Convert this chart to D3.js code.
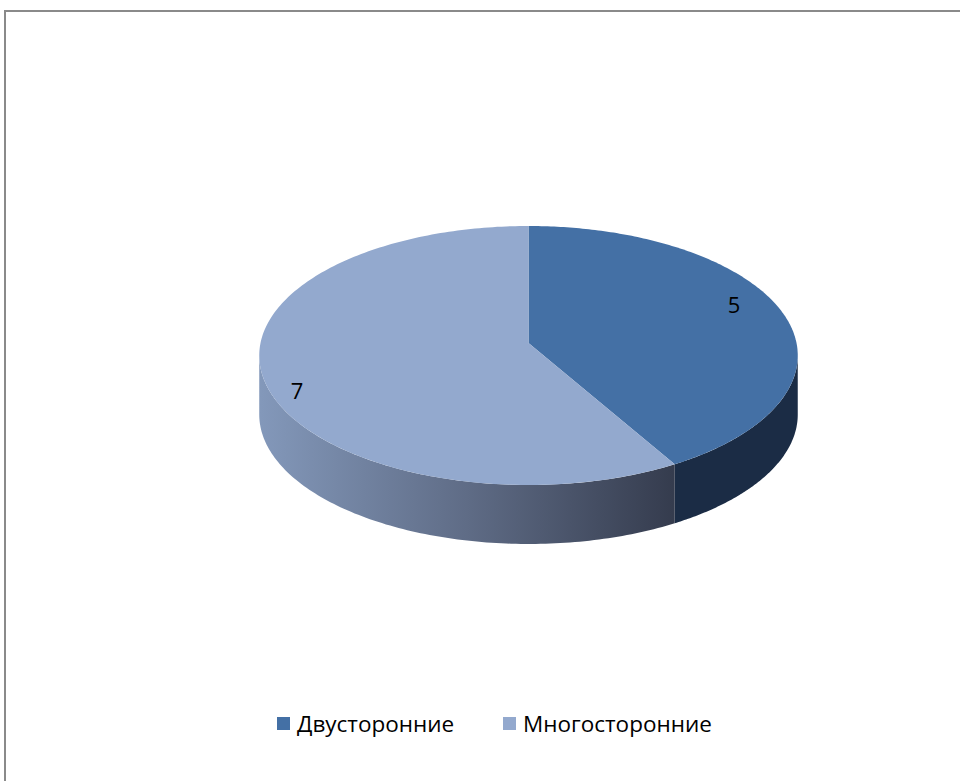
<!DOCTYPE html>
<html><head><meta charset="utf-8">
<script src="https://cdn.jsdelivr.net/npm/d3@7"></script>
<style>html,body{margin:0;padding:0;background:#fff;}svg{display:block;}</style>
</head><body>
<svg id="c" width="960" height="781"></svg>
<script>
const categories = ["Двусторонние", "Многосторонние"];
const values = [5, 7];
const labels = ["5", "7"];

const topColors = ["#4470a5", "#93a9ce"];
const sideColors = ["#1b2c45", null];

const svg = d3.select("#c");

// frame
svg.append("rect").attr("x", 5).attr("y", 11).attr("width", 1000).attr("height", 1000)
  .attr("fill", "#fff").attr("stroke", "#8a8a8a").attr("stroke-width", 2);

// perspective pie geometry
const cx = 528.5, cy = 343, R = 268, Ry = 128.3, k = 0.0965, depth = 59;
function rim(theta, dy = 0) {
  const u = Math.sin(theta), v = -Math.cos(theta);
  const w = 1 - k * v;
  return [cx + R * u / w, cy + Ry * v / w + dy];
}
const visA = Math.acos(-k), visB = 2 * Math.PI - Math.acos(-k);

const pie = d3.pie().sort(null).value(d => d)(values);

const defs = svg.append("defs");
const grad = defs.append("linearGradient").attr("id", "sideGrad")
  .attr("gradientUnits", "userSpaceOnUse").attr("x1", 260).attr("y1", 0).attr("x2", 673).attr("y2", 0);
grad.append("stop").attr("offset", "0%").attr("stop-color", "#8398ba");
grad.append("stop").attr("offset", "50%").attr("stop-color", "#5f6c86");
grad.append("stop").attr("offset", "100%").attr("stop-color", "#353c4e");

function samples(a0, a1, n) {
  const pts = [];
  for (let i = 0; i <= n; i++) pts.push(a0 + (a1 - a0) * i / n);
  return pts;
}
const line = d3.line();

// sides
pie.forEach((p, i) => {
  const a0 = Math.max(p.startAngle, visA), a1 = Math.min(p.endAngle, visB);
  if (a1 <= a0) return;
  const ts = samples(a0, a1, 120);
  const topPts = ts.map(t => rim(t));
  const botPts = ts.slice().reverse().map(t => rim(t, depth));
  svg.append("path").attr("d", line(topPts.concat(botPts)) + "Z")
    .attr("fill", i === 1 ? "url(#sideGrad)" : sideColors[i]);
});

// tops
pie.forEach((p, i) => {
  const ts = samples(p.startAngle, p.endAngle, 200);
  const pts = [[cx, cy]].concat(ts.map(t => rim(t)));
  svg.append("path").attr("d", line(pts) + "Z").attr("fill", topColors[i]);
});

// data labels
const labelPos = [[734, 304], [297, 390]];
pie.forEach((p, i) => {
  svg.append("text").attr("x", labelPos[i][0]).attr("y", labelPos[i][1])
    .attr("text-anchor", "middle").attr("dominant-baseline", "central")
    .attr("font-family", "Open Sans, sans-serif").attr("font-size", 22).attr("fill", "#000")
    .text(labels[i]);
});

// legend
const legX = [277, 503];
categories.forEach((c, i) => {
  svg.append("rect").attr("x", legX[i]).attr("y", 717).attr("width", 13).attr("height", 13)
    .attr("fill", topColors[i]);
  svg.append("text").attr("x", legX[i] + 20).attr("y", 723)
    .attr("dominant-baseline", "central")
    .attr("font-family", "Open Sans, sans-serif").attr("font-size", 22.5).attr("fill", "#000")
    .text(c);
});
</script>
</body></html>
